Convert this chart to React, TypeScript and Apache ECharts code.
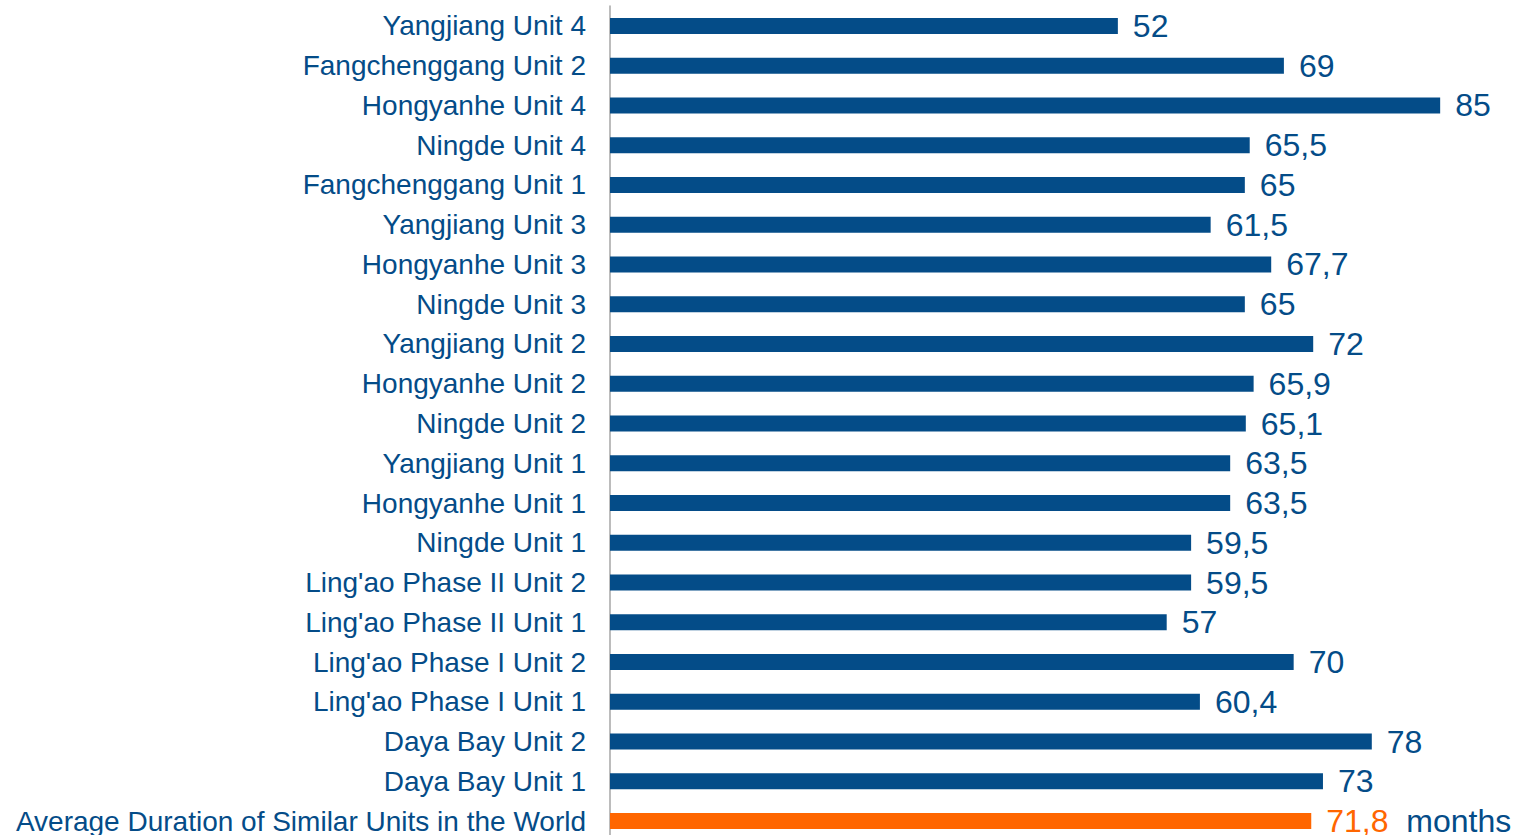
import React, { useEffect, useRef } from "react";
import * as echarts from "echarts";

const categories = [
  "Average Duration of Similar Units in the World",
  "Daya Bay Unit 1",
  "Daya Bay Unit 2",
  "Ling'ao Phase I Unit 1",
  "Ling'ao Phase I Unit 2",
  "Ling'ao Phase II Unit 1",
  "Ling'ao Phase II Unit 2",
  "Ningde Unit 1",
  "Hongyanhe Unit 1",
  "Yangjiang Unit 1",
  "Ningde Unit 2",
  "Hongyanhe Unit 2",
  "Yangjiang Unit 2",
  "Ningde Unit 3",
  "Hongyanhe Unit 3",
  "Yangjiang Unit 3",
  "Fangchenggang Unit 1",
  "Ningde Unit 4",
  "Hongyanhe Unit 4",
  "Fangchenggang Unit 2",
  "Yangjiang Unit 4",
];

const durations = [
  71.8, 73, 78, 60.4, 70, 57, 59.5, 59.5, 63.5, 63.5, 65.1, 65.9, 72, 65, 67.7,
  61.5, 65, 65.5, 85, 69, 52,
];

const unitLabel = "months";

const BLUE = "#044C88";
const ORANGE = "#FF6600";
const FONT = "'Liberation Sans', Arial, sans-serif";

const fmt = (v: number) => String(v).replace(".", ",");

export default function App() {
  const ref = useRef<HTMLDivElement>(null);
  useEffect(() => {
    if (!ref.current) return;
    const chart = echarts.init(ref.current, null, { renderer: "svg" });
    const data = durations.map((v, i) =>
      i === 0
        ? {
            value: v,
            itemStyle: { color: ORANGE },
            label: {
              formatter: `{o|${fmt(v)}}  {m|${unitLabel}}`,
            },
          }
        : { value: v }
    );
    chart.setOption({
      animation: false,
      grid: { left: 610, right: 32, top: 6, bottom: 0 },
      xAxis: {
        type: "value",
        min: 0,
        max: 90,
        show: false,
        splitLine: { show: false },
      },
      yAxis: {
        type: "category",
        data: categories,
        axisLine: { show: true, lineStyle: { color: "#A6A6A6", width: 1.5 } },
        axisTick: { show: false },
        axisLabel: {
          color: BLUE,
          fontSize: 28,
          fontFamily: FONT,
          margin: 24,
        },
      },
      series: [
        {
          type: "bar",
          data,
          barWidth: 16,
          itemStyle: { color: BLUE },
          label: {
            show: true,
            position: "right",
            distance: 15,
            color: BLUE,
            fontSize: 32,
            fontFamily: FONT,
            formatter: (p: any) => fmt(p.value),
            rich: {
              o: { color: ORANGE, fontSize: 32, fontFamily: FONT },
              m: { color: BLUE, fontSize: 32, fontFamily: FONT },
            },
          },
        },
      ],
    });
    return () => chart.dispose();
  }, []);
  return (
    <div
      ref={ref}
      style={{ position: "fixed", left: 0, top: 0, width: 1521, height: 841, background: "#fff" }}
    />
  );
}
